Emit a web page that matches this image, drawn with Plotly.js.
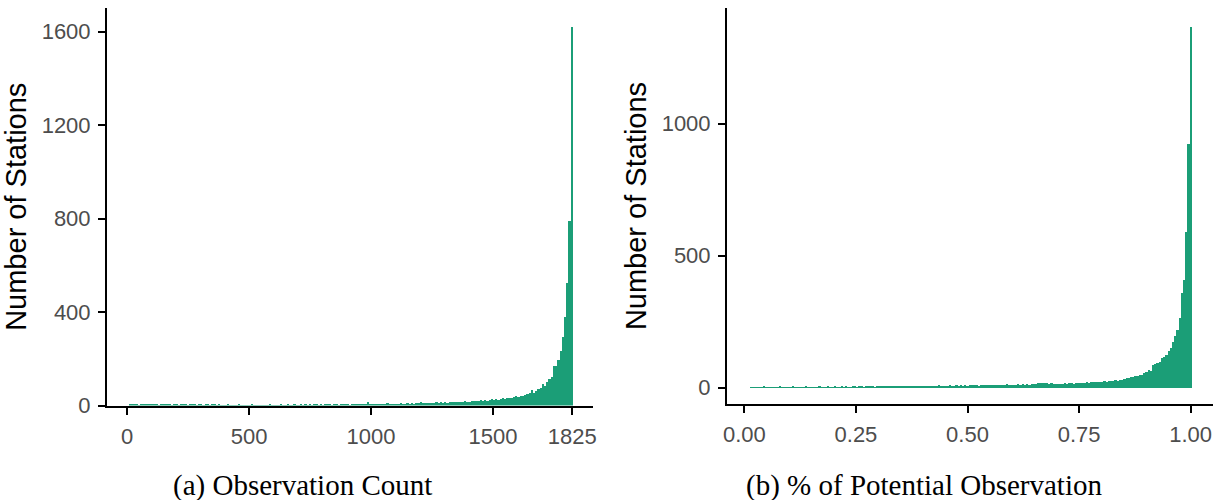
<!DOCTYPE html>
<html>
<head>
<meta charset="utf-8">
<script src="https://cdn.plot.ly/plotly-3.0.1.min.js"></script>
<style>html,body{margin:0;padding:0;background:#fff;}#chart{width:1225px;height:500px;}</style>
</head>
<body>
<div id="chart"></div>
<script>
// ---- Data ----
// (a) Observation Count histogram: 200 bins of width 9.1, first bin starts at 7.5
const obsBinStart = 7.5;
const obsBinWidth = 9.1;
const obsCounts = [
  7,5,8,6,4,7,6,5,8,6,
  5,7,6,4,6,5,7,5,6,4,
  6,5,4,6,5,7,4,5,6,5,
  4,6,5,4,5,6,4,5,7,4,
  5,4,3,4,5,3,4,3,4,5,
  3,4,3,4,3,5,4,3,4,3,
  4,3,4,5,3,4,3,4,5,3,
  4,5,3,4,5,4,3,5,4,6,
  4,5,4,5,6,4,5,4,6,5,
  5,4,6,5,4,6,5,7,5,4,
  6,5,7,5,6,5,7,14,6,7,
  6,8,7,6,8,7,9,7,8,6,
  8,7,9,8,7,9,8,10,8,9,
  10,16,9,11,10,12,10,11,13,12,
  13,11,14,12,13,15,14,13,16,15,
  16,18,15,17,19,18,20,19,22,21,
  23,21,24,26,24,27,25,28,30,27,
  31,34,30,36,40,35,42,39,45,48,
  52,65,55,60,70,75,94,85,100,115,
  121,171,171,193,233,293,378,524,789,1620
];
const obsTickVals = [0, 500, 1000, 1500, 1825];
const obsTickText = ["0", "500", "1000", "1500", "1825"];
const obsYTicks = [0, 400, 800, 1200, 1600];

// (b) % of Potential Observation histogram: 200 bins of width 0.00495, first bin starts at 0.0125
const pctBinStart = 0.0125;
const pctBinWidth = 0.00495;
const pctCounts = [
  3,4,3,3,4,3,5,3,4,3,
  4,3,4,5,3,4,3,4,3,5,
  4,3,4,3,4,5,3,4,4,3,
  4,5,3,4,4,5,4,3,5,4,
  4,5,4,5,4,4,5,6,4,5,
  5,4,6,5,5,6,4,6,5,7,
  6,5,6,7,5,6,7,6,5,7,
  6,7,6,8,6,7,6,8,7,6,
  8,7,6,8,7,9,7,8,6,8,
  9,8,7,9,8,10,8,9,7,9,
  10,9,11,8,10,9,11,10,9,11,
  10,12,11,10,12,11,13,12,11,12,
  12,13,12,14,12,13,12,14,13,15,
  18,17,18,16,17,15,16,15,14,15,
  15,14,16,15,16,17,15,18,16,17,
  19,18,20,19,21,20,22,21,23,22,
  24,22,25,27,24,28,26,29,31,33,
  36,38,42,40,44,46,48,50,54,58,
  67,64,86,88,95,98,112,117,124,140,
  150,174,195,219,263,357,408,590,923,1367
];
const pctTickVals = [0, 0.25, 0.5, 0.75, 1];
const pctTickText = ["0.00", "0.25", "0.50", "0.75", "1.00"];
const pctYTicks = [0, 500, 1000];

const yTitle = "Number of Stations";
const captionA = "(a) Observation Count";
const captionB = "(b) % of Potential Observation";

// ---- Build bin centres ----
const obsX = obsCounts.map((_, i) => obsBinStart + obsBinWidth * (i + 0.5));
const pctX = pctCounts.map((_, i) => pctBinStart + pctBinWidth * (i + 0.5));

const barColor = "#1b9e77";
const tickFont = {family: "Liberation Sans, Arial, sans-serif", size: 22, color: "#4d4d4d"};
const titleFont = {family: "Liberation Sans, Arial, sans-serif", size: 29, color: "#000"};

const traces = [
  {type: "bar", x: obsX, y: obsCounts, width: obsBinWidth, xaxis: "x", yaxis: "y",
   marker: {color: barColor, line: {width: 0}}, hoverinfo: "x+y"},
  {type: "bar", x: pctX, y: pctCounts, width: pctBinWidth, xaxis: "x2", yaxis: "y2",
   marker: {color: barColor, line: {width: 0}}, hoverinfo: "x+y"}
];

const axisCommon = {
  showgrid: false, zeroline: false, showline: true, linecolor: "#000", linewidth: 2,
  ticks: "outside", ticklen: 7, tickwidth: 2, tickcolor: "#000",
  tickfont: tickFont, fixedrange: true
};

const layout = {
  width: 1225, height: 500,
  margin: {l: 0, r: 0, t: 0, b: 0},
  paper_bgcolor: "#fff", plot_bgcolor: "#fff",
  showlegend: false, bargap: 0,
  xaxis: Object.assign({}, axisCommon, {
    domain: [107/1225, 593/1225], range: [-83, 1910], anchor: "y",
    tickmode: "array", tickvals: obsTickVals, ticktext: obsTickText, ticklabelstandoff: 3
  }),
  yaxis: Object.assign({}, axisCommon, {
    domain: [1 - 405.5/500, 1 - 8/500], range: [0, 1701], anchor: "x",
    tickmode: "array", tickvals: obsYTicks, ticktext: obsYTicks.map(String), ticklabelstandoff: 3,
    title: {text: yTitle, font: titleFont, standoff: 6}
  }),
  xaxis2: Object.assign({}, axisCommon, {
    domain: [727/1225, 1213/1225], range: [-0.0389, 1.05], anchor: "y2",
    tickmode: "array", tickvals: pctTickVals, ticktext: pctTickText, ticklabelstandoff: 3
  }),
  yaxis2: Object.assign({}, axisCommon, {
    domain: [1 - 404/500, 1 - 8/500], range: [-61.7, 1438], anchor: "x2",
    tickmode: "array", tickvals: pctYTicks, ticktext: pctYTicks.map(String), ticklabelstandoff: 3,
    title: {text: yTitle, font: titleFont, standoff: 6}
  }),
  annotations: [
    {text: captionA, xref: "paper", yref: "paper", x: 302/1225, y: 1 - 485/500,
     xanchor: "center", yanchor: "middle", showarrow: false,
     font: {family: "Liberation Serif, Times New Roman, serif", size: 29, color: "#000"}},
    {text: captionB, xref: "paper", yref: "paper", x: 924/1225, y: 1 - 485/500,
     xanchor: "center", yanchor: "middle", showarrow: false,
     font: {family: "Liberation Serif, Times New Roman, serif", size: 29, color: "#000"}}
  ]
};

Plotly.newPlot("chart", traces, layout, {displayModeBar: false, staticPlot: true});
</script>
</body>
</html>
